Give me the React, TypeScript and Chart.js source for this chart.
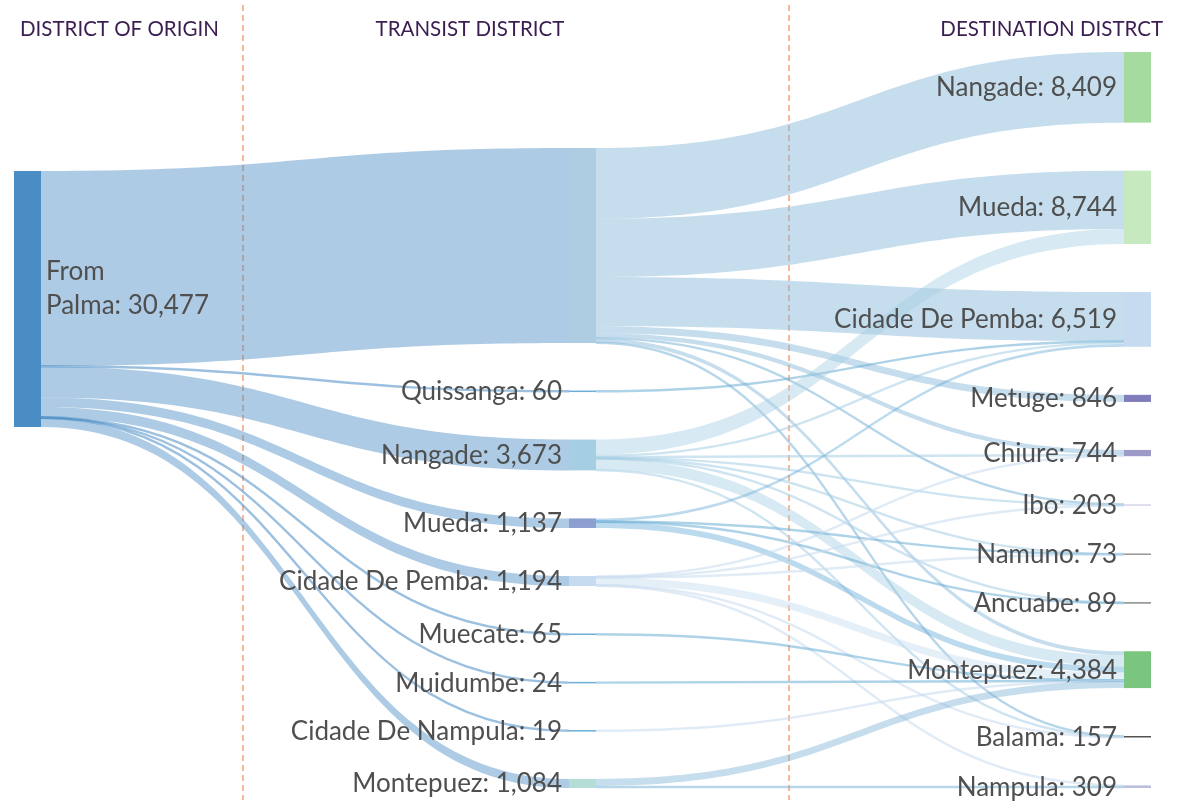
import { useEffect, useRef } from 'react';
import { Chart, registerables } from 'chart.js';

Chart.register(...registerables);

// ---------------- DATA ----------------
const originNodes = ['From<br>Palma'];
const transitNodes = ['', 'Quissanga', 'Nangade', 'Mueda', 'Cidade De Pemba', 'Muecate', 'Muidumbe', 'Cidade De Nampula', 'Montepuez'];
const destinationNodes = ['Nangade', 'Mueda', 'Cidade De Pemba', 'Metuge', 'Chiure', 'Ibo', 'Namuno', 'Ancuabe', 'Montepuez', 'Balama', 'Nampula'];

// Palma -> transit district
const palmaToTransit = [23221, 60, 3673, 1137, 1194, 65, 24, 19, 1084];

// transit district -> destination (columns follow destinationNodes)
const directFromPalma = [8409, 6944, 5859, 846, 544, 63, 0, 0, 489, 67, 0];
const viaQuissanga = [0, 0, 60, 0, 0, 0, 0, 0, 0, 0, 0];
const viaNangade = [0, 1800, 250, 0, 100, 60, 30, 33, 1340, 60, 0];
const viaMueda = [0, 0, 350, 0, 0, 0, 23, 56, 708, 0, 0];
const viaCidadeDePemba = [0, 0, 0, 0, 100, 80, 20, 0, 900, 30, 64];
const viaMuecate = [0, 0, 0, 0, 0, 0, 0, 0, 65, 0, 0];
const viaMuidumbe = [0, 0, 0, 0, 0, 0, 0, 0, 24, 0, 0];
const viaCidadeDeNampula = [0, 0, 0, 0, 0, 0, 0, 0, 19, 0, 0];
const viaMontepuez = [0, 0, 0, 0, 0, 0, 0, 0, 839, 0, 245];
const transitToDestination = [directFromPalma, viaQuissanga, viaNangade, viaMueda, viaCidadeDePemba, viaMuecate, viaMuidumbe, viaCidadeDeNampula, viaMontepuez];

const columnHeaders = ['DISTRICT OF ORIGIN', 'TRANSIST DISTRICT', 'DESTINATION DISTRCT'];

// ---------------- STYLE ----------------
const originColors = ['#4a8cc4'];
const transitColors = ['#aecde3', '#6baed6', '#a6cee3', '#8d9fd1', '#c6dbef', '#6baed6', '#6baed6', '#6baed6', '#b5ddd8'];
const destinationColors = ['#a6dba0', '#c7e9c0', '#c6dbef', '#807dba', '#9e9ac8', '#dadaeb', '#969696', '#8a8a8a', '#7bc67e', '#525252', '#bcbddc'];
const originLinkColors = ['rgba(74,140,196,0.45)'];
const transitLinkColors = [
  'rgba(126,180,215,0.45)',
  'rgba(107,174,214,0.45)',
  'rgba(166,206,227,0.45)',
  'rgba(107,174,214,0.45)',
  'rgba(198,219,239,0.45)',
  'rgba(107,174,214,0.45)',
  'rgba(107,174,214,0.45)',
  'rgba(198,219,239,0.55)',
  'rgba(126,180,215,0.45)',
];

const W = 1182;
const H = 805;
const EXTENT = { x0: 14, x1: 1151, y0: 52, y1: 788 };
const NODE_WIDTH = 27;
const NODE_PAD = 48;
const ITERATIONS = 50;
const DIVIDERS = [243, 789];
const LABEL_FONT = '26px Lato, "Open Sans", sans-serif';
const HEADER_FONT = '20.5px Lato, "Open Sans", sans-serif';

type SNode = { name: string; color: string; col: number; value: number; x0: number; x1: number; y0: number; y1: number; sourceLinks: SLink[]; targetLinks: SLink[] };
type SLink = { source: SNode; target: SNode; value: number; width: number; sy: number; ty: number; color: string };

function computeSankey() {
  const nodes: SNode[] = [];
  const mk = (name: string, col: number, color: string) => {
    const n: SNode = { name, color, col, value: 0, x0: 0, x1: 0, y0: 0, y1: 0, sourceLinks: [], targetLinks: [] };
    nodes.push(n);
    return n;
  };
  const o = originNodes.map((n, i) => mk(n, 0, originColors[i]));
  const t = transitNodes.map((n, i) => mk(n, 1, transitColors[i]));
  const d = destinationNodes.map((n, i) => mk(n, 2, destinationColors[i]));
  const links: SLink[] = [];
  palmaToTransit.forEach((v, j) => {
    if (v > 0) links.push({ source: o[0], target: t[j], value: v, width: 0, sy: 0, ty: 0, color: originLinkColors[0] });
  });
  transitToDestination.forEach((row, i) =>
    row.forEach((v, j) => {
      if (v > 0) links.push({ source: t[i], target: d[j], value: v, width: 0, sy: 0, ty: 0, color: transitLinkColors[i] });
    })
  );
  links.forEach((l) => {
    l.source.sourceLinks.push(l);
    l.target.targetLinks.push(l);
  });
  const sum = (a: SLink[]) => a.reduce((s, l) => s + l.value, 0);
  nodes.forEach((n) => (n.value = Math.max(sum(n.sourceLinks), sum(n.targetLinks))));

  const columns = [o, t, d];
  const { x0, x1, y0, y1 } = EXTENT;
  const kx = (x1 - x0 - NODE_WIDTH) / (columns.length - 1);
  columns.forEach((c, ci) =>
    c.forEach((n) => {
      n.x0 = x0 + ci * kx;
      n.x1 = n.x0 + NODE_WIDTH;
    })
  );
  const ky = Math.min(...columns.map((c) => (y1 - y0 - (c.length - 1) * NODE_PAD) / c.reduce((s, n) => s + n.value, 0)));
  columns.forEach((c) =>
    c.forEach((n, i) => {
      n.y0 = i;
      n.y1 = i + n.value * ky;
    })
  );
  links.forEach((l) => (l.width = l.value * ky));
  const center = (n: SNode) => (n.y0 + n.y1) / 2;

  const resolve = () =>
    columns.forEach((c) => {
      let y = y0;
      for (const n of c) {
        const dy = y - n.y0;
        if (dy > 0) {
          n.y0 += dy;
          n.y1 += dy;
        }
        y = n.y1 + NODE_PAD;
      }
      const over = y - NODE_PAD - y1;
      if (over > 0) {
        const last = c[c.length - 1];
        last.y0 -= over;
        last.y1 -= over;
        y = last.y0;
        for (let i = c.length - 2; i >= 0; i--) {
          const n = c[i];
          const dy = n.y1 + NODE_PAD - y;
          if (dy > 0) {
            n.y0 -= dy;
            n.y1 -= dy;
          }
          y = n.y0;
        }
      }
    });

  const relaxRL = (alpha: number) => {
    columns.slice().reverse().forEach((c) =>
      c.forEach((n) => {
        if (!n.sourceLinks.length) return;
        const w = sum(n.sourceLinks);
        const target = n.sourceLinks.reduce((s, l) => s + center(l.target) * l.value, 0) / w;
        const dy = (target - center(n)) * alpha;
        n.y0 += dy;
        n.y1 += dy;
      })
    );
  };
  const relaxLR = (alpha: number) => {
    columns.forEach((c) =>
      c.forEach((n) => {
        if (!n.targetLinks.length) return;
        const w = sum(n.targetLinks);
        const src = n.targetLinks.reduce((s, l) => s + center(l.source) * l.value, 0) / w;
        const dy = (src - center(n)) * alpha;
        n.y0 += dy;
        n.y1 += dy;
      })
    );
  };

  resolve();
  let alpha = 1;
  for (let k = 0; k < ITERATIONS; k++) {
    alpha *= 0.99;
    relaxRL(alpha);
    resolve();
    relaxLR(alpha);
    resolve();
  }

  nodes.forEach((n) => {
    n.sourceLinks.sort((a, b) => a.target.y0 - b.target.y0);
    n.targetLinks.sort((a, b) => a.source.y0 - b.source.y0);
    let sy = n.y0;
    n.sourceLinks.forEach((l) => {
      l.sy = sy;
      sy += l.width;
    });
    let ty = n.y0;
    n.targetLinks.forEach((l) => {
      l.ty = ty;
      ty += l.width;
    });
  });
  return { nodes, links, columns };
}

const fmt = (v: number) => v.toLocaleString('en-US');

const sankeyPlugin = {
  id: 'sankeyDraw',
  afterDatasetsDraw(chart: any) {
    const { ctx, scales } = chart;
    const xs = scales.x;
    const ys = scales.y;
    const X = (v: number) => xs.getPixelForValue(v);
    const Y = (v: number) => ys.getPixelForValue(v);
    const { nodes, links } = computeSankey();

    ctx.save();
    // divider lines
    ctx.strokeStyle = '#f5a27a';
    ctx.lineWidth = 1.5;
    ctx.setLineDash([6, 4]);
    DIVIDERS.forEach((dx) => {
      ctx.beginPath();
      ctx.moveTo(X(dx), Y(5));
      ctx.lineTo(X(dx), Y(800));
      ctx.stroke();
    });
    ctx.setLineDash([]);

    // links
    links.forEach((l) => {
      const xa = X(l.source.x1);
      const xb = X(l.target.x0);
      const xm1 = xa + (xb - xa) * 0.5;
      const xm2 = xb - (xb - xa) * 0.5;
      if (l.width < 2.2) {
        const ya = Y(l.sy + l.width / 2);
        const yb = Y(l.ty + l.width / 2);
        ctx.beginPath();
        ctx.moveTo(xa, ya);
        ctx.bezierCurveTo(xm1, ya, xm2, yb, xb, yb);
        ctx.strokeStyle = l.color.replace(/[\d.]+\)$/, '0.55)');
        ctx.lineWidth = 2.4;
        ctx.stroke();
      } else {
        const a0 = Y(l.sy);
        const a1 = Y(l.sy + l.width);
        const b0 = Y(l.ty);
        const b1 = Y(l.ty + l.width);
        ctx.beginPath();
        ctx.moveTo(xa, a0);
        ctx.bezierCurveTo(xm1, a0, xm2, b0, xb, b0);
        ctx.lineTo(xb, b1);
        ctx.bezierCurveTo(xm2, b1, xm1, a1, xa, a1);
        ctx.closePath();
        ctx.fillStyle = l.color;
        ctx.fill();
      }
    });

    // nodes
    nodes.forEach((n) => {
      let top = Y(n.y0);
      let h = Y(n.y1) - top;
      if (h < 1.5) {
        top = top + h / 2 - 0.75;
        h = 1.5;
      }
      ctx.fillStyle = n.color;
      ctx.fillRect(X(n.x0), top, X(n.x1) - X(n.x0), h);
    });

    // labels
    ctx.font = LABEL_FONT;
    ctx.fillStyle = '#4f4f4f';
    ctx.textBaseline = 'alphabetic';
    nodes.forEach((n) => {
      if (!n.name) return;
      const cy = Y((n.y0 + n.y1) / 2);
      if (n.col === 0) {
        const parts = n.name.split('<br>');
        parts[parts.length - 1] += ': ' + fmt(n.value);
        ctx.textAlign = 'left';
        const lh = 34;
        parts.forEach((p, i) => {
          ctx.fillText(p, X(n.x1) + 5, cy - 2 + (i - (parts.length - 1) / 2) * lh);
        });
      } else {
        ctx.textAlign = 'right';
        ctx.fillText(n.name + ': ' + fmt(n.value), X(n.x0) - 7, cy + 9);
      }
    });

    // column headers
    ctx.font = HEADER_FONT;
    ctx.fillStyle = '#3b1d50';
    ctx.textAlign = 'left';
    ctx.fillText(columnHeaders[0], X(20), Y(36));
    ctx.textAlign = 'center';
    ctx.fillText(columnHeaders[1], X(470), Y(36));
    ctx.textAlign = 'right';
    ctx.fillText(columnHeaders[2], X(1163), Y(36));
    ctx.restore();
  },
};

export default function App() {
  const ref = useRef<HTMLCanvasElement>(null);
  useEffect(() => {
    document.body.style.margin = '0';
    const chart = new Chart(ref.current as HTMLCanvasElement, {
      type: 'scatter',
      data: { datasets: [] },
      options: {
        animation: false,
        responsive: false,
        maintainAspectRatio: false,
        layout: { padding: 0 },
        plugins: { legend: { display: false }, tooltip: { enabled: false } },
        scales: {
          x: { type: 'linear', min: 0, max: W, display: false },
          y: { type: 'linear', min: 0, max: H, reverse: true, display: false },
        },
      },
      plugins: [sankeyPlugin],
    } as any);
    return () => chart.destroy();
  }, []);
  return <canvas ref={ref} width={W} height={H} style={{ display: 'block' }} />;
}
